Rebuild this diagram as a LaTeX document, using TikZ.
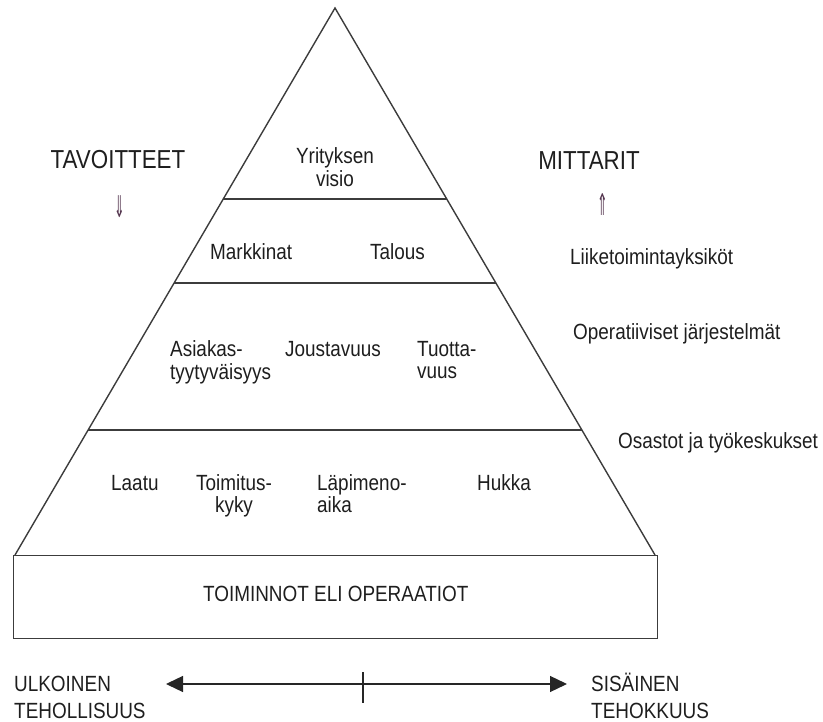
\documentclass[tikz,border=0pt]{standalone}
\usepackage{fontspec}
\setmainfont{Liberation Sans}[FakeStretch=0.86]
\newfontfamily\arrowfont{DejaVu Sans}
\usetikzlibrary{arrows.meta,calc}
\definecolor{ink}{RGB}{30,30,30}
\definecolor{edge}{RGB}{60,60,60}
\definecolor{pointer}{RGB}{85,55,80}
% two-line labels: the first row's baseline is the node's baseline
\newcommand\leftpair[2]{\begin{tabular}[t]{@{}l@{}}#1\\#2\end{tabular}}
\newcommand\midpair[2]{\begin{tabular}[t]{@{}c@{}}#1\\#2\end{tabular}}
\begin{document}
\begin{tikzpicture}[x=1pt,y=-1pt,
  outline/.style={draw=edge, line width=1.4pt},
  lbl/.style={font=\fontsize{22}{21}\selectfont, text=ink, inner sep=0pt},
  axislbl/.style={font=\fontsize{22}{27.5}\selectfont, text=ink, inner sep=0pt},
  head/.style={font=\fontsize{26}{26}\selectfont, text=ink, inner sep=0pt},
  dirsign/.style={font=\arrowfont\fontsize{30}{30}\selectfont, text=pointer, inner sep=0pt},
  axisarrow/.style={draw=black!85, line width=1.3pt,
    {Triangle[length=17pt,width=16pt]}-{Triangle[length=17pt,width=16pt]}}]
\useasboundingbox (0,0) rectangle (823,722);

% pyramid outline
\coordinate (apex) at (335,8);
\coordinate (bl) at (15,555);
\coordinate (br) at (655,555);
\draw[outline] (bl) -- (apex) -- (br);

% level dividers
\coordinate (d1l) at ($(apex)!0.3492!(bl)$);
\coordinate (d1r) at ($(apex)!0.3492!(br)$);
\coordinate (d2l) at ($(apex)!0.5027!(bl)$);
\coordinate (d2r) at ($(apex)!0.5027!(br)$);
\coordinate (d3l) at ($(apex)!0.7715!(bl)$);
\coordinate (d3r) at ($(apex)!0.7715!(br)$);
\draw[outline] (d1l) -- (d1r);
\draw[outline] (d2l) -- (d2r);
\draw[outline] (d3l) -- (d3r);

% operations base
\node[outline, lbl, anchor=north west, minimum width=644pt, minimum height=83pt, text depth=6pt]
  (ops) at (13,555) {TOIMINNOT ELI OPERAATIOT};

% top level
\node[lbl, anchor=base] (vision) at (335,164) {\midpair{Yrityksen}{visio}};

% second level
\node[lbl, anchor=base west] (markets) at (210,260) {Markkinat};
\node[lbl, anchor=base west] (finance) at (370,260) {Talous};

% third level
\node[lbl, anchor=base west] (customer) at (170,357) {\leftpair{Asiakas-}{tyytyväisyys}};
\node[lbl, anchor=base west] (flex) at (285,357) {Joustavuus};
\node[lbl, anchor=base west] (product) at (417,357) {\leftpair{Tuotta-}{vuus}};

% fourth level
\node[lbl, anchor=base west] (quality) at (111,490) {Laatu};
\node[lbl, anchor=base] (delivery) at (234,490) {\midpair{Toimitus-}{kyky}};
\node[lbl, anchor=base west] (leadtime) at (317,490) {\leftpair{Läpimeno-}{aika}};
\node[lbl, anchor=base west] (waste) at (477,490) {Hukka};

% side headings
\node[head, anchor=base] (goals) at (118,169) {TAVOITTEET};
\node[dirsign, anchor=center] (goalsdir) at (120,207) {\scalebox{0.42}[1]{⇓}};
\node[head, anchor=base] (metrics) at (589,170) {MITTARIT};
\node[dirsign, anchor=center] (metricsdir) at (603,205) {\scalebox{0.42}[1]{⇑}};

% level names on the right
\node[lbl, anchor=base west] (units) at (570,265) {Liiketoimintayksiköt};
\node[lbl, anchor=base west] (systems) at (573,340) {Operatiiviset järjestelmät};
\node[lbl, anchor=base west] (depts) at (618,448) {Osastot ja työkeskukset};

% effectiveness / efficiency axis
\node[axislbl, anchor=base west] (external) at (14,691) {\leftpair{ULKOINEN}{TEHOLLISUUS}};
\node[axislbl, anchor=base west] (internal) at (591,691) {\leftpair{SISÄINEN}{TEHOKKUUS}};
\coordinate (westtip) at (166,684);
\coordinate (easttip) at (567,684);
\coordinate (ticktop) at (363,672);
\coordinate (tickbot) at (363,703);
\draw[axisarrow] (westtip) -- (easttip);
\draw[draw=black!85, line width=1.2pt] (ticktop) -- (tickbot);
\end{tikzpicture}
\end{document}
